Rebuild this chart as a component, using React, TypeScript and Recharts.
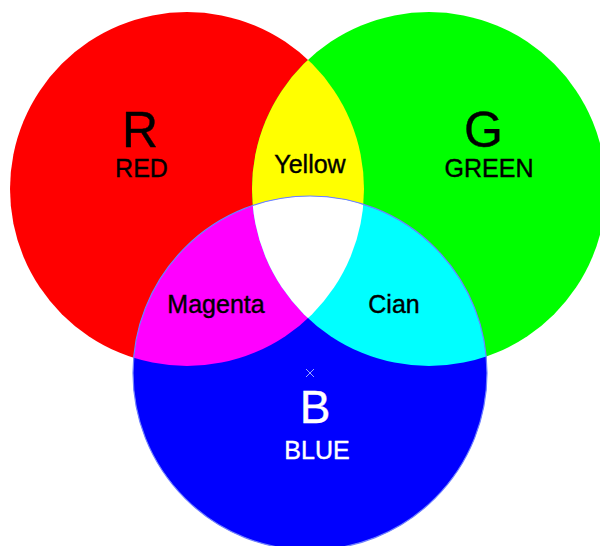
import React from 'react';
import { ScatterChart, Scatter, XAxis, YAxis } from 'recharts';

// ---- data ----
const circleNames = ['R', 'G', 'B'];
const circleX = [187, 429, 310];
const circleY = [189, 189, 373];
const circleR = [177, 177, 177];

// overlaps: base circle, clipped by the listed circles
const overlapNames = ['Yellow', 'Magenta', 'Cian', 'White'];
const overlapBase = ['R', 'R', 'G', 'R'];
const overlapClips = [['G'], ['B'], ['B'], ['G', 'B']];

const labelTexts = ['R', 'RED', 'G', 'GREEN', 'Yellow', 'Magenta', 'Cian', 'B', 'BLUE'];
const labelX = [140, 141.5, 483.5, 489, 310, 216, 394, 315, 317];
const labelY = [147, 177, 147, 176.5, 172.5, 313, 313, 423, 459];

// ---- styles ----
const CHART_W = 600;
const CHART_H = 546;
const X_DOMAIN: [number, number] = [0, 600];
const Y_DOMAIN: [number, number] = [0, 546];
const UNIT = CHART_W / (X_DOMAIN[1] - X_DOMAIN[0]);

const fills: Record<string, string> = {
  R: '#ff0000',
  G: '#00ff00',
  B: '#0000ff',
  Yellow: '#ffff00',
  Magenta: '#ff00ff',
  Cian: '#00ffff',
  White: '#ffffff',
};

const labelStyle: Record<string, { size: number; color: string }> = {
  R: { size: 50, color: '#000' },
  RED: { size: 25, color: '#000' },
  G: { size: 50, color: '#000' },
  GREEN: { size: 25, color: '#000' },
  Yellow: { size: 25, color: '#000' },
  Magenta: { size: 25, color: '#000' },
  Cian: { size: 25, color: '#000' },
  B: { size: 46, color: '#fff' },
  BLUE: { size: 25, color: '#fff' },
};

const circles = circleNames.map((name, i) => ({ name, x: circleX[i], y: circleY[i], r: circleR[i] }));
const circleByName: Record<string, { name: string; x: number; y: number; r: number }> = {};
circles.forEach((c) => (circleByName[c.name] = c));

const overlaps = overlapNames.map((name, i) => {
  const base = circleByName[overlapBase[i]];
  return { name, x: base.x, y: base.y, r: base.r, clips: overlapClips[i] };
});

const labels = labelTexts.map((text, i) => ({ text, x: labelX[i], y: labelY[i] }));

const rgData = circles.filter((c) => c.name !== 'B');
const blueData = circles.filter((c) => c.name === 'B');
const yellowData = overlaps.filter((o) => o.name === 'Yellow');
const restOverlaps = overlaps.filter((o) => o.name !== 'Yellow');

const CircleShape = (props: any) => {
  const { cx, cy, payload } = props;
  const r = payload.r * UNIT;
  return (
    <g>
      <defs>
        <clipPath id={`clip-${payload.name}`}>
          <circle cx={cx} cy={cy} r={r} />
        </clipPath>
      </defs>
      <circle cx={cx} cy={cy} r={r} fill={fills[payload.name]} />
    </g>
  );
};

const OverlapShape = (props: any) => {
  const { cx, cy, payload } = props;
  const r = payload.r * UNIT;
  let node: React.ReactNode = <circle cx={cx} cy={cy} r={r} fill={fills[payload.name]} />;
  (payload.clips as string[]).forEach((c) => {
    node = <g clipPath={`url(#clip-${c})`}>{node}</g>;
  });
  return <g>{node}</g>;
};

const OutlineShape = (props: any) => {
  const { cx, cy, payload } = props;
  const r = payload.r * UNIT;
  const m = 4;
  return (
    <g>
      <circle cx={cx} cy={cy} r={r} fill="none" stroke="#6f80ff" strokeWidth={1.2} />
      <line x1={cx - m} y1={cy - m} x2={cx + m} y2={cy + m} stroke="#9aa6ff" strokeWidth={1} />
      <line x1={cx - m} y1={cy + m} x2={cx + m} y2={cy - m} stroke="#9aa6ff" strokeWidth={1} />
    </g>
  );
};

const LabelShape = (props: any) => {
  const { cx, cy, payload } = props;
  const st = labelStyle[payload.text];
  return (
    <text
      x={cx}
      y={cy}
      textAnchor="middle"
      fontFamily="'Liberation Sans', Arial, sans-serif"
      fontSize={st.size}
      fill={st.color}
      stroke={st.color}
      strokeWidth={0.4}
    >
      {payload.text}
    </text>
  );
};

export default function App() {
  return (
    <div style={{ position: 'absolute', left: 0, top: 0, width: CHART_W, height: CHART_H, background: '#fff' }}>
      <ScatterChart width={CHART_W} height={CHART_H} margin={{ top: 0, right: 0, bottom: 0, left: 0 }}>
        <XAxis type="number" dataKey="x" domain={X_DOMAIN} hide allowDataOverflow />
        <YAxis type="number" dataKey="y" domain={Y_DOMAIN} hide reversed allowDataOverflow />
        <Scatter data={rgData} shape={CircleShape} isAnimationActive={false} />
        <Scatter data={yellowData} shape={OverlapShape} isAnimationActive={false} />
        <Scatter data={blueData} shape={CircleShape} isAnimationActive={false} />
        <Scatter data={restOverlaps} shape={OverlapShape} isAnimationActive={false} />
        <Scatter data={blueData} shape={OutlineShape} isAnimationActive={false} />
        <Scatter data={labels} shape={LabelShape} isAnimationActive={false} />
      </ScatterChart>
    </div>
  );
}
